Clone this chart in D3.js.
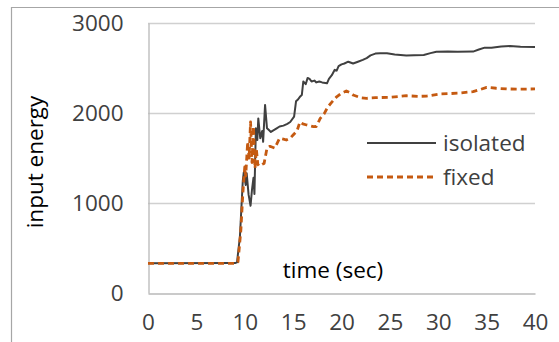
<!DOCTYPE html>
<html>
<head>
<meta charset="utf-8">
<script src="https://cdn.jsdelivr.net/npm/d3@7/dist/d3.min.js"></script>
<style>
  html, body { margin: 0; padding: 0; background: #fff; }
  svg { display: block; font-family: "Open Sans", "Noto Sans", sans-serif; }
</style>
</head>
<body>
<svg id="chart" width="559" height="342"></svg>
<script>
// Input energy over time for the isolated and fixed configurations
const isolatedTime = [0, 9.0, 9.2, 9.5, 9.8, 9.9, 10.1, 10.2, 10.4, 10.6, 10.75, 10.9, 11.0, 11.15, 11.3, 11.4, 11.6, 11.8, 11.9, 12.1, 12.3, 12.5, 12.7, 13.0, 13.3, 13.6, 14.0, 14.4, 14.7, 15.1, 15.3, 15.5, 15.7, 15.9, 16.05, 16.3, 16.5, 16.7, 16.9, 17.2, 17.4, 17.7, 18.0, 18.5, 18.7, 19.0, 19.3, 19.5, 19.7, 20.0, 20.3, 20.7, 21.2, 21.7, 22.2, 22.6, 23.0, 23.5, 24.0, 24.7, 25.5, 26.7, 27.5, 28.5, 29.2, 29.8, 31, 32, 33.6, 34.2, 34.8, 35.5, 36.5, 37.4, 38.5, 40];
const isolatedEnergy = [330, 332, 340, 625, 1250, 1340, 1200, 1330, 1090, 970, 1150, 1280, 1100, 1830, 1700, 1940, 1720, 1800, 1680, 2090, 1830, 1810, 1790, 1810, 1830, 1850, 1860, 1880, 1900, 1960, 2130, 2150, 2180, 2200, 2350, 2320, 2390, 2380, 2350, 2360, 2340, 2350, 2340, 2330, 2380, 2420, 2480, 2470, 2520, 2540, 2550, 2570, 2550, 2570, 2590, 2610, 2640, 2660, 2665, 2663, 2650, 2640, 2642, 2645, 2665, 2681, 2683, 2680, 2682, 2705, 2726, 2725, 2738, 2744, 2735, 2732];

const fixedTime = [0, 9.0, 9.3, 9.6, 9.8, 10.0, 10.1, 10.3, 10.45, 10.6, 10.75, 10.9, 11.06, 11.2, 11.35, 11.5, 11.8, 12.0, 12.3, 12.6, 13.1, 13.6, 14.0, 14.3, 14.7, 15.0, 15.4, 15.7, 16.0, 16.4, 17.1, 17.4, 17.8, 18.2, 18.6, 19.0, 19.5, 20.0, 20.5, 20.8, 21.2, 22.0, 22.6, 23.5, 25, 26.7, 28, 28.8, 30.2, 32, 33.6, 34.3, 35.0, 36, 37.1, 38.5, 40];
const fixedEnergy = [330, 330, 345, 700, 1100, 1400, 1300, 1680, 1500, 1900, 1450, 1850, 1385, 1600, 1430, 1410, 1430, 1440, 1610, 1630, 1610, 1720, 1710, 1700, 1720, 1755, 1800, 1900, 1880, 1867, 1848, 1850, 1940, 1990, 2070, 2120, 2180, 2220, 2245, 2230, 2200, 2170, 2163, 2170, 2175, 2192, 2185, 2188, 2211, 2220, 2237, 2260, 2285, 2275, 2267, 2265, 2267];

const xTicks = [0, 5, 10, 15, 20, 25, 30, 35, 40];
const yTicks = [0, 1000, 2000, 3000];
const seriesNames = ["isolated", "fixed"];

const svg = d3.select("#chart");
const plot = { left: 148, right: 535, top: 23, bottom: 293 };
const fontSize = 22.5;

const x = d3.scaleLinear().domain([0, 40]).range([plot.left, plot.right]);
const y = d3.scaleLinear().domain([0, 3000]).range([plot.bottom, plot.top]);

// chart frame
svg.append("line").attr("x1", 12).attr("x2", 559).attr("y1", 7.5).attr("y2", 7.5)
  .attr("stroke", "#a6a6a6").attr("stroke-width", 1.2);
svg.append("line").attr("x1", 11.5).attr("x2", 11.5).attr("y1", 7).attr("y2", 342)
  .attr("stroke", "#a6a6a6").attr("stroke-width", 1.2);

// horizontal gridlines
svg.append("g")
  .selectAll("line")
  .data(yTicks.filter(d => d > 0))
  .join("line")
  .attr("x1", plot.left).attr("x2", plot.right)
  .attr("y1", d => Math.round(y(d)) + 0.5).attr("y2", d => Math.round(y(d)) + 0.5)
  .attr("stroke", "#d0d0d0").attr("stroke-width", 1.3);

// y axis
const yAxis = svg.append("g")
  .attr("transform", `translate(${plot.left + 0.5},0)`)
  .call(d3.axisLeft(y).tickValues(yTicks).tickSize(0).tickPadding(25).tickFormat(d3.format("d")));
yAxis.select(".domain").attr("stroke", "#b8b8b8").attr("stroke-width", 1.3);
yAxis.selectAll("text").attr("font-size", fontSize).attr("fill", "#404040")
  .attr("font-family", "'Open Sans', sans-serif");

// x axis
const xAxis = svg.append("g")
  .attr("transform", `translate(0,${plot.bottom + 0.5})`)
  .call(d3.axisBottom(x).tickValues(xTicks).tickSize(0).tickPadding(21).tickFormat(d3.format("d")));
xAxis.select(".domain").attr("stroke", "#b8b8b8").attr("stroke-width", 1.3);
xAxis.selectAll("text").attr("font-size", fontSize).attr("fill", "#404040")
  .attr("font-family", "'Open Sans', sans-serif");

// axis titles
svg.append("text")
  .attr("transform", "translate(43,162) rotate(-90)")
  .attr("text-anchor", "middle")
  .attr("font-size", fontSize).attr("fill", "#000")
  .text("input energy");
svg.append("text")
  .attr("x", 333).attr("y", 278)
  .attr("text-anchor", "middle")
  .attr("font-size", fontSize).attr("fill", "#000")
  .text("time (sec)");

// data lines
const line = d3.line().x(d => x(d[0])).y(d => y(d[1]));
const isolatedData = isolatedTime.map((t, i) => [t, isolatedEnergy[i]]);
const fixedData = fixedTime.map((t, i) => [t, fixedEnergy[i]]);

svg.append("path").datum(isolatedData)
  .attr("d", line).attr("fill", "none")
  .attr("stroke", "#404040").attr("stroke-width", 2).attr("stroke-linejoin", "round");
svg.append("path").datum(fixedData)
  .attr("d", line).attr("fill", "none")
  .attr("stroke", "#c55a11").attr("stroke-width", 2.8)
  .attr("stroke-dasharray", "6,4").attr("stroke-linejoin", "round");

// legend
const legend = svg.append("g");
const legendStyles = [
  { stroke: "#404040", width: 2, dash: null },
  { stroke: "#c55a11", width: 2.8, dash: "6,4" }
];
seriesNames.forEach((name, i) => {
  const ly = 143 + i * 34;
  legend.append("line")
    .attr("x1", 367).attr("x2", 436).attr("y1", ly).attr("y2", ly)
    .attr("stroke", legendStyles[i].stroke).attr("stroke-width", legendStyles[i].width)
    .attr("stroke-dasharray", legendStyles[i].dash);
  legend.append("text")
    .attr("x", 443).attr("y", ly).attr("dy", "0.35em")
    .attr("font-size", fontSize).attr("fill", "#404040")
    .text(name);
});
</script>
</body>
</html>
